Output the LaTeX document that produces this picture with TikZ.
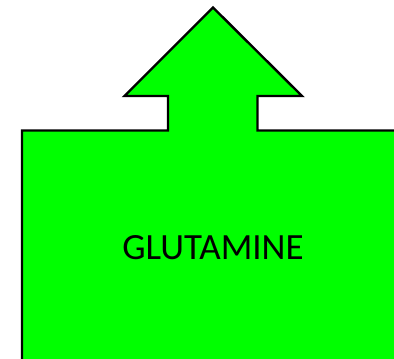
\documentclass[tikz,border=0pt]{standalone}
\usepackage{fontspec}
\setmainfont{Carlito}
\begin{document}
\begin{tikzpicture}[x=1pt,y=-1pt,
  shapefill/.style={fill={rgb,255:red,0;green,255;blue,0}, draw=black, line width=2.4pt, line join=miter},
  label/.style={font=\fontsize{37}{42}\selectfont, text=black, inner sep=0pt}]
  \useasboundingbox (0,0) rectangle (394,359);
  \begin{scope}
    \clip (0,0) rectangle (394,359);
    % body with upward arrow on top
    \draw[shapefill] (22,380) -- (22,130.5) -- (168,130.5) -- (168,96) -- (124.5,96)
      -- (213,7.5) -- (302,96) -- (257.5,96) -- (257.5,130.5) -- (420,130.5)
      -- (420,380) -- cycle;
  \end{scope}
  \node[label] (glu) at (213,247.5) {GLUTAMINE};
\end{tikzpicture}
\end{document}
